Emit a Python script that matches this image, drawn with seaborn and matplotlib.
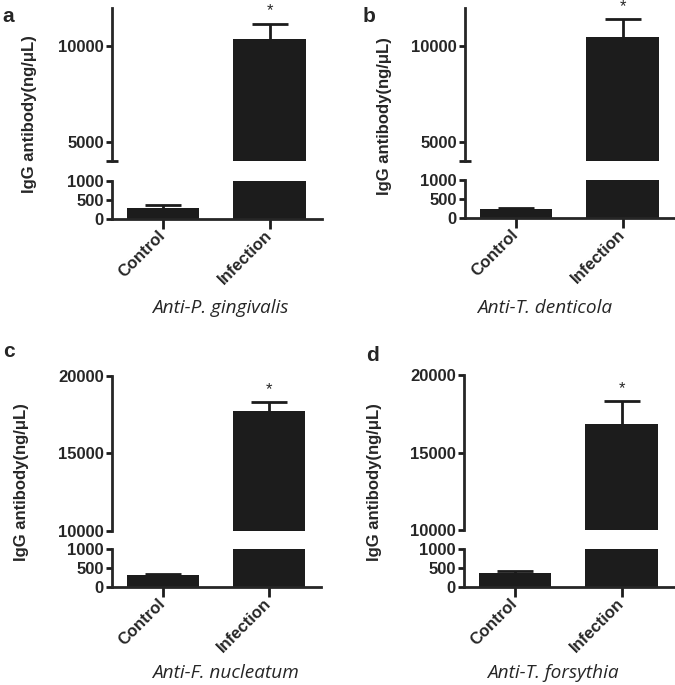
import matplotlib
matplotlib.use("Agg")
import matplotlib.pyplot as plt
import seaborn as sns
import pandas as pd

# ---- data ----
categories = ["Control", "Infection"]
panel_letters = ["a", "b", "c", "d"]
subtitles = ["Anti-P. gingivalis", "Anti-T. denticola", "Anti-F. nucleatum", "Anti-T. forsythia"]
means_a = [290, 10340]
err_a = [70, 800]
means_b = [240, 10450]
err_b = [30, 940]
means_c = [320, 17730]
err_c = [20, 560]
means_d = [380, 16840]
err_d = [40, 1460]
upper_range_ab = (4000, 12000)
upper_ticks_ab = [5000, 10000]
upper_range_cd = (10000, 20000)
upper_ticks_cd = [10000, 15000, 20000]
lower_range = (0, 1000)
lower_ticks = [0, 500, 1000]
ylabel = "IgG antibody(ng/\u03bcL)"

sns.set_style("ticks")
plt.rcParams['font.family'] = ['Liberation Sans', 'DejaVu Sans']
plt.rcParams['font.weight'] = 'bold'

W, H = 675, 685
fig = plt.figure(figsize=(W / 100, H / 100), dpi=100)
BAR = "#1c1c1c"
LW = 2.0

def frac(left, right, top, bottom):
    return [left / W, 1 - bottom / H, (right - left) / W, (bottom - top) / H]

panels = [
    dict(means=means_a, err=err_a, up=upper_range_ab, upt=upper_ticks_ab,
         lr=(112, 322), uy=(7.6, 161.2), ly=(181, 219), end_tick=4000,
         letter=(2, 22), ylab=(30, 114), sub=(220, 308)),
    dict(means=means_b, err=err_b, up=upper_range_ab, upt=upper_ticks_ab,
         lr=(465, 675), uy=(7.6, 161), ly=(180, 218), end_tick=4000,
         letter=(363, 22), ylab=(384, 116), sub=(545, 308)),
    dict(means=means_c, err=err_c, up=upper_range_cd, upt=upper_ticks_cd,
         lr=(112, 321), uy=(376, 530.7), ly=(549.3, 587.3), end_tick=10000,
         letter=(3, 357), ylab=(22, 482), sub=(225, 673)),
    dict(means=means_d, err=err_d, up=upper_range_cd, upt=upper_ticks_cd,
         lr=(464, 674), uy=(375, 530.3), ly=(549, 587), end_tick=10000,
         letter=(366, 361), ylab=(374, 482), sub=(553, 673)),
]

for i, p in enumerate(panels):
    df = pd.DataFrame({"group": categories, "value": p["means"]})
    ax_u = fig.add_axes(frac(p["lr"][0], p["lr"][1], p["uy"][0], p["uy"][1]))
    ax_l = fig.add_axes(frac(p["lr"][0], p["lr"][1], p["ly"][0], p["ly"][1]))
    for ax in (ax_u, ax_l):
        sns.barplot(data=df, x="group", y="value", order=categories, color=BAR,
                    width=0.68, saturation=1, errorbar=None, ax=ax,
                    edgecolor=BAR, linewidth=0)
        xs = [b.get_x() + b.get_width() / 2 for b in ax.patches]
        eb = ax.errorbar(xs, p["means"], yerr=[[0, 0], p["err"]], fmt="none",
                         ecolor=BAR, elinewidth=LW, capsize=13, capthick=LW)
        caplines = eb.lines[1]
        if len(caplines) == 2:
            caplines[0].set_visible(False)
        ax.set_xlim(-0.477, 1.49)
        ax.set_facecolor("none")
        ax.set_xlabel("")
        ax.set_ylabel("")
        for s in ("top", "right"):
            ax.spines[s].set_visible(False)
        ax.spines["left"].set_linewidth(LW)
        ax.spines["bottom"].set_linewidth(LW)
        ax.tick_params(axis="y", direction="out", length=4.5, width=LW, pad=1.5,
                       labelsize=12, color=BAR)

    # upper
    ax_u.set_ylim(*p["up"])
    ax_u.set_yticks(p["upt"])
    ax_u.set_yticklabels([str(v) for v in p["upt"]], fontweight="bold", fontsize=12)
    ax_u.spines["bottom"].set_visible(False)
    ax_u.tick_params(axis="x", bottom=False, labelbottom=False)
    ax_u.set_yticks([p["end_tick"]], minor=True)
    ax_u.tick_params(axis="y", which="minor", direction="in", length=4.5, width=LW, color=BAR)
    if p["end_tick"] == 4000:
        ax_u.tick_params(axis="y", which="minor", direction="inout", length=9)
    # star
    xs = [b.get_x() + b.get_width() / 2 for b in ax_u.patches]
    ax_u.annotate("*", xy=(xs[1], p["means"][1] + p["err"][1]), xytext=(0, 4),
                  textcoords="offset points", ha="center", va="bottom",
                  fontsize=12, fontweight="normal", annotation_clip=False)

    # lower
    ax_l.set_ylim(*lower_range)
    ax_l.set_yticks(lower_ticks)
    ax_l.set_yticklabels([str(v) for v in lower_ticks], fontweight="bold", fontsize=12)
    ax_l.set_yticks([1000], minor=True)
    ax_l.tick_params(axis="y", which="minor", direction="in", length=4.5, width=LW, color=BAR)
    ax_l.tick_params(axis="x", direction="out", length=7, width=LW, pad=3, color=BAR)
    ax_l.set_xticks(range(len(categories)))
    ax_l.set_xticklabels(categories, rotation=45, ha="right", va="center",
                         rotation_mode="anchor", fontweight="bold", fontsize=12)

    fig.text(p["letter"][0] / W, 1 - p["letter"][1] / H, panel_letters[i],
             fontsize=15, fontweight="bold", ha="left", va="baseline")
    fig.text(p["ylab"][0] / W, 1 - p["ylab"][1] / H, ylabel, rotation=90,
             fontsize=12, fontweight="bold", ha="center", va="center")
    fig.text(p["sub"][0] / W, 1 - p["sub"][1] / H, subtitles[i],
             family=["Open Sans", "DejaVu Sans"], style="italic", fontweight="normal",
             fontsize=13.7, ha="center", va="center")

fig.savefig("out.png", dpi=100)
